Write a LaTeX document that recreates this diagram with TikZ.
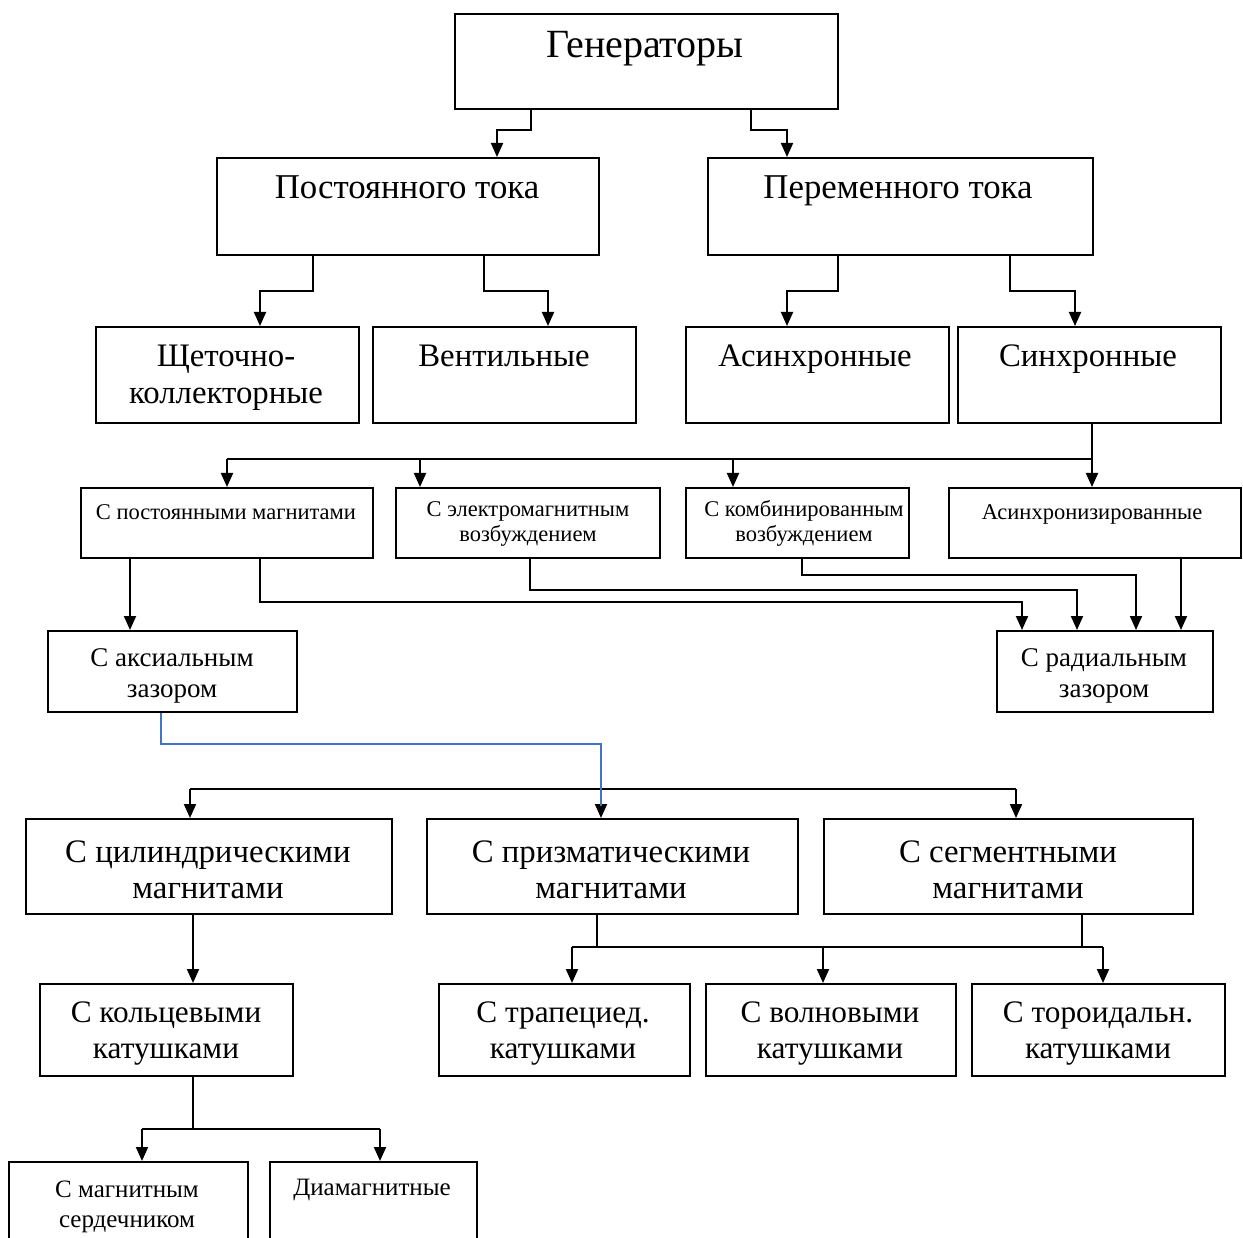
\documentclass[tikz,border=0pt]{standalone}
\usepackage{fontspec}
\setmainfont{Liberation Serif}
\usetikzlibrary{arrows.meta}
\begin{document}
\begin{tikzpicture}[x=1pt,y=-1pt,
  box/.style={draw=black, line width=2pt, inner sep=0pt, anchor=north west},
  txt/.style={inner sep=0pt, align=center, text=black, anchor=base},
  ln/.style={draw=black, line width=2pt},
  arr/.style={draw=black, line width=2pt, -{Triangle[length=14pt,width=12pt]}},
  bl/.style={draw={rgb,255:red,68;green,114;blue,196}, line width=1.6pt},
  fA/.style={font=\fontsize{40}{44}\selectfont},
  fB/.style={font=\fontsize{34.8}{38}\selectfont},
  fC/.style={font=\fontsize{32.8}{37}\selectfont},
  fD/.style={font=\fontsize{22.5}{25}\selectfont},
  fE/.style={font=\fontsize{27}{31}\selectfont},
  fF/.style={font=\fontsize{32.8}{36}\selectfont},
  fG/.style={font=\fontsize{31.3}{36}\selectfont},
  fH/.style={font=\fontsize{25}{30}\selectfont}]
\useasboundingbox (0,0) rectangle (1243,1238);
\clip (0,0) rectangle (1243,1238);
\fill[white] (0,0) rectangle (1243,1238);
\newcommand{\bx}[5]{\node[box, minimum width={#4-#2}, minimum height={#5-#3}] (#1) at (#2,#3) {};}
% boxes
\bx{g}{454}{13}{837}{108}
\bx{pt}{216}{157}{598}{254}
\bx{pe}{707}{157}{1092}{254}
\bx{sh}{95}{326}{358}{422}
\bx{ve}{372}{326}{635}{422}
\bx{as}{685}{326}{948}{422}
\bx{si}{957}{326}{1220}{422}
\bx{pm}{80}{487}{372}{557}
\bx{em}{395}{487}{659}{557}
\bx{km}{685}{487}{908}{557}
\bx{az}{948}{487}{1240}{557}
\bx{ak}{47}{630}{296}{711}
\bx{rz}{996}{630}{1212}{711}
\bx{cy}{25}{818}{391}{913}
\bx{pr}{426}{818}{797}{913}
\bx{se}{823}{818}{1192}{913}
\bx{ko}{39}{983}{292}{1075}
\bx{tr}{438}{983}{689}{1075}
\bx{vo}{705}{983}{955}{1075}
\bx{to}{971}{983}{1224}{1075}
\bx{ms}{8}{1161}{247}{1260}
\bx{dm}{269}{1161}{476}{1260}
% texts (anchored at the baseline of the last line)
\node[txt,fA] (gT) at (645,58) {Генераторы};
\node[txt,fB] (ptT) at (407,199) {Постоянного тока};
\node[txt,fB] (peT) at (898,199) {Переменного тока};
\node[txt,fC] (shT) at (226,404) {Щеточно-\\коллекторные};
\node[txt,fC] (veT) at (504,367) {Вентильные};
\node[txt,fC] (asT) at (815,367) {Асинхронные};
\node[txt,fC] (siT) at (1088,367) {Синхронные};
\node[txt,fD] (pmT) at (226,519) {С постоянными магнитами};
\node[txt,fD] (emT) at (528,541) {С электромагнитным\\возбуждением};
\node[txt,fD] (kmT) at (804,541) {С комбинированным\\возбуждением};
\node[txt,fD] (azT) at (1092,519) {Асинхронизированные};
\node[txt,fE] (akT) at (172,697) {С аксиальным\\зазором};
\node[txt,fE] (rzT) at (1104,697) {С радиальным\\зазором};
\node[txt,fF] (cyT) at (208,898) {С цилиндрическими\\магнитами};
\node[txt,fF] (prT) at (611,898) {С призматическими\\магнитами};
\node[txt,fF] (seT) at (1008,898) {С сегментными\\магнитами};
\node[txt,fG] (koT) at (166,1058) {С кольцевыми\\катушками};
\node[txt,fG] (trT) at (563,1058) {С трапециед.\\катушками};
\node[txt,fG] (voT) at (830,1058) {С волновыми\\катушками};
\node[txt,fG] (toT) at (1098,1058) {С тороидальн.\\катушками};
\node[txt,fH] (msT) at (127,1227) {С магнитным\\сердечником};
\node[txt,fH] (dmT) at (372,1195) {Диамагнитные};
% connectors
\draw[arr] (g.south -| 531,0) |- (497,130) -- (pt.north -| 497,0);
\draw[arr] (g.south -| 751,0) |- (787,130) -- (pe.north -| 787,0);
\draw[arr] (pt.south -| 313,0) |- (260,291) -- (sh.north -| 260,0);
\draw[arr] (pt.south -| 484,0) |- (548,291) -- (ve.north -| 548,0);
\draw[arr] (pe.south -| 838,0) |- (787,291) -- (as.north -| 787,0);
\draw[arr] (pe.south -| 1010,0) |- (1075,291) -- (si.north -| 1075,0);
% synchronous bus
\coordinate (b5) at (1092,459);
\draw[ln] (si.south -| b5) -- (b5) -- (227,459);
\draw[arr] (227,459) -- (pm.north -| 227,0);
\draw[arr] (420,459) -- (em.north -| 420,0);
\draw[arr] (733,459) -- (km.north -| 733,0);
\draw[arr] (b5) -- (az.north -| b5);
% to gap boxes
\draw[arr] (pm.south -| 130,0) -- (ak.north -| 130,0);
\draw[arr] (pm.south -| 260,0) |- (1022,602) -- (rz.north -| 1022,0);
\draw[arr] (em.south -| 530,0) |- (1077,590) -- (rz.north -| 1077,0);
\draw[arr] (km.south -| 802,0) |- (1136,575) -- (rz.north -| 1136,0);
\draw[arr] (az.south -| 1181,0) -- (rz.north -| 1181,0);
% magnets bus
\coordinate (b7) at (190,789);
\draw[ln] (b7) -- (1016,789);
\draw[arr] (b7) -- (cy.north -| b7);
\draw[arr] (601,789) -- (pr.north -| 601,0);
\draw[arr] (1016,789) -- (se.north -| 1016,0);
% blue connector
\coordinate (blEnd) at (601,806);
\draw[bl] (ak.south -| 161,0) |- (601,744) -- (blEnd);
% cylindrical -> ring coils
\draw[arr] (cy.south -| 193,0) -- (ko.north -| 193,0);
% coils bus
\draw[ln] (pr.south -| 597,0) -- (597,947);
\draw[ln] (se.south -| 1082,0) -- (1082,947);
\draw[ln] (572,947) -- (1103,947);
\draw[arr] (572,947) -- (tr.north -| 572,0);
\draw[arr] (823,947) -- (vo.north -| 823,0);
\draw[arr] (1103,947) -- (to.north -| 1103,0);
% ring -> bottom
\draw[ln] (ko.south -| 193,0) -- (193,1129);
\draw[ln] (142,1129) -- (380,1129);
\draw[arr] (142,1129) -- (ms.north -| 142,0);
\draw[arr] (380,1129) -- (dm.north -| 380,0);
\end{tikzpicture}
\end{document}
